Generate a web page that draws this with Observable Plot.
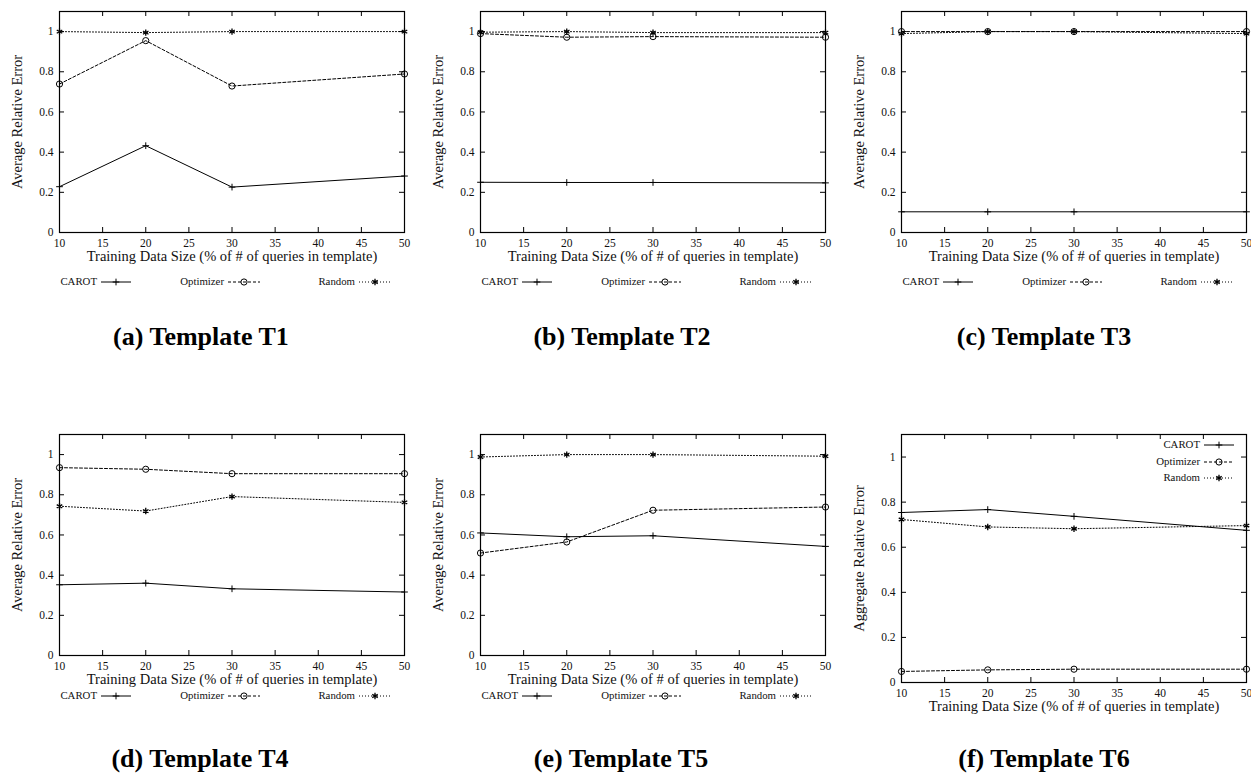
<!DOCTYPE html>
<html><head><meta charset="utf-8">
<script src="https://cdn.jsdelivr.net/npm/d3@7"></script>
<script src="https://cdn.jsdelivr.net/npm/@observablehq/plot@0.6"></script>
<style>
html,body{margin:0;padding:0;background:#fff;overflow:hidden;}
#root{position:relative;width:1251px;height:776px;font-family:"Liberation Serif",serif;}
.panel{position:absolute;}
.panel svg{max-width:none !important;}
#overlay{position:absolute;left:0;top:0;pointer-events:none;}
</style></head><body><div id="root"></div>
<script>
// ---------- data ----------
const sizes = [10, 20, 30, 50];
const seriesNames = ["CAROT", "Optimizer", "Random"];
const panelTitles = ["(a) Template T1", "(b) Template T2", "(c) Template T3", "(d) Template T4", "(e) Template T5", "(f) Template T6"];
const yLabels = ["Average Relative Error", "Average Relative Error", "Average Relative Error", "Average Relative Error", "Average Relative Error", "Aggregate Relative Error"];
const xLabel = "Training Data Size (% of # of queries in template)";
const xTicks = [10, 15, 20, 25, 30, 35, 40, 45, 50];
const yTicks = [0, 0.2, 0.4, 0.6, 0.8, 1];
const yTickLabels = ["0", "0.2", "0.4", "0.6", "0.8", "1"];

const t1Carot = [0.228, 0.432, 0.226, 0.281];
const t1Optimizer = [0.739, 0.955, 0.729, 0.789];
const t1Random = [1.0, 0.995, 1.0, 1.0];
const t2Carot = [0.25, 0.249, 0.249, 0.247];
const t2Optimizer = [0.99, 0.972, 0.975, 0.972];
const t2Random = [0.997, 1.0, 0.995, 0.995];
const t3Carot = [0.103, 0.103, 0.103, 0.103];
const t3Optimizer = [1.0, 1.0, 1.0, 1.0];
const t3Random = [0.99, 1.0, 1.0, 0.99];
const t4Carot = [0.352, 0.360, 0.332, 0.316];
const t4Optimizer = [0.935, 0.927, 0.905, 0.905];
const t4Random = [0.743, 0.719, 0.791, 0.762];
const t5Carot = [0.61, 0.591, 0.596, 0.543];
const t5Optimizer = [0.51, 0.565, 0.723, 0.739];
const t5Random = [0.988, 1.0, 1.0, 0.992];
const t6Carot = [0.754, 0.767, 0.737, 0.675];
const t6Optimizer = [0.049, 0.056, 0.059, 0.059];
const t6Random = [0.723, 0.690, 0.682, 0.696];

const panelValues = [
  [t1Carot, t1Optimizer, t1Random],
  [t2Carot, t2Optimizer, t2Random],
  [t3Carot, t3Optimizer, t3Random],
  [t4Carot, t4Optimizer, t4Random],
  [t5Carot, t5Optimizer, t5Random],
  [t6Carot, t6Optimizer, t6Random]
];

// ---------- layout & styles ----------
const layout = [
  {left: 59, top: 11, h: 221, legend: "below", legendY: 282, capX: 201, capY: 345},
  {left: 480, top: 11, h: 221, legend: "below", legendY: 282, capX: 622, capY: 345},
  {left: 901, top: 11, h: 221, legend: "below", legendY: 282, capX: 1044, capY: 345},
  {left: 59, top: 434, h: 221, legend: "below", legendY: 696, capX: 200, capY: 767},
  {left: 480, top: 434, h: 221, legend: "below", legendY: 696, capX: 621, capY: 767},
  {left: 901, top: 434, h: 248, legend: "inside", capX: 1044, capY: 767}
];
const FW = 345, ML = 59, MT = 11, MR = 16, MB = 40;
const styles = [
  {dash: null, symbol: "plus", d3sym: d3.symbolPlus, r: 2.3, sw: 1},
  {dash: "3,2", symbol: "circle", d3sym: d3.symbolCircle, r: 3.1, sw: 1},
  {dash: "1,2", symbol: "asterisk", d3sym: d3.symbolAsterisk, r: 3.0, sw: 1.3}
];
const FONT = "Liberation Serif";
const INK = "#111";

const root = document.getElementById("root");

layout.forEach((L, i) => {
  const FH = L.h;
  const marks = [
    Plot.frame({stroke: "#000", strokeWidth: 1.2}),
    Plot.tickY(yTicks, {y: d => d, insetRight: FW - 5, stroke: "#000"}),
    Plot.tickY(yTicks, {y: d => d, insetLeft: FW - 5, stroke: "#000"}),
    Plot.tickX(xTicks, {x: d => d, insetBottom: FH - 5, stroke: "#000"}),
    Plot.tickX(xTicks, {x: d => d, insetTop: FH - 5, stroke: "#000"}),
    Plot.axisX({ticks: xTicks, tickSize: 0, tickPadding: 6, label: null, fontSize: 11.5, fill: INK}),
    Plot.axisY({ticks: yTicks, tickSize: 0, tickPadding: 6, label: null, fontSize: 11.5, fill: INK,
      tickFormat: d => yTickLabels[yTicks.indexOf(d)]}),
    Plot.text([xLabel], {frameAnchor: "bottom", dy: 24, text: d => d, fontSize: 14.5, lineAnchor: "middle", textAnchor: "middle", fill: INK}),
    Plot.text([yLabels[i]], {frameAnchor: "left", dx: -42, rotate: -90, text: d => d, fontSize: 14.5, lineAnchor: "middle", textAnchor: "middle", fill: INK})
  ];
  seriesNames.forEach((s, k) => {
    const rows = sizes.map((x, j) => ({series: s, x, y: panelValues[i][k][j]}));
    const st = styles[k];
    marks.push(Plot.line(rows, {x: "x", y: "y", stroke: "#000", strokeWidth: 1, strokeDasharray: st.dash || undefined}));
    marks.push(Plot.dot(rows, {x: "x", y: "y", symbol: () => st.symbol, r: st.r, stroke: "#000", strokeWidth: st.sw, fill: "none"}));
  });
  const svg = Plot.plot({
    width: ML + FW + MR, height: MT + FH + MB,
    marginLeft: ML, marginTop: MT, marginRight: MR, marginBottom: MB,
    x: {domain: [10, 50], axis: null},
    y: {domain: [0, 1.1], axis: null},
    symbol: {type: "identity"},
    style: {fontFamily: FONT, background: "transparent", overflow: "visible", maxWidth: "none"},
    marks
  });
  const div = document.createElement("div");
  div.className = "panel";
  div.style.left = (L.left - ML) + "px";
  div.style.top = (L.top - MT) + "px";
  div.style.width = (ML + FW + MR) + "px";
  div.appendChild(svg);
  root.appendChild(div);
});

// ---------- overlay: legends and captions ----------
const ov = d3.select(root).append("svg").attr("id", "overlay")
  .attr("width", 1251).attr("height", 776).style("font-family", FONT);

function legendItem(g, textEnd, x1, x2, y, k) {
  const st = styles[k];
  g.append("text").attr("x", textEnd).attr("y", y).attr("dy", "0.32em")
    .attr("text-anchor", "end").attr("font-size", 10.8).attr("fill", INK).text(seriesNames[k]);
  g.append("line").attr("x1", x1).attr("x2", x2).attr("y1", y).attr("y2", y)
    .attr("stroke", "#000").attr("stroke-width", 1).attr("stroke-dasharray", st.dash);
  g.append("path").attr("transform", `translate(${(x1 + x2) / 2},${y})`)
    .attr("d", d3.symbol().type(st.d3sym).size(Math.PI * st.r * st.r)())
    .attr("fill", "none").attr("stroke", "#000").attr("stroke-width", st.sw);
}

layout.forEach((L, i) => {
  const g = ov.append("g");
  if (L.legend === "below") {
    const fl = L.left;
    legendItem(g, fl + 38, fl + 42, fl + 72, L.legendY, 0);
    legendItem(g, fl + 165, fl + 169, fl + 201, L.legendY, 1);
    legendItem(g, fl + 296, fl + 300, fl + 332, L.legendY, 2);
  } else {
    const ys = [445, 462, 478];
    seriesNames.forEach((s, k) => legendItem(g, 1200, 1204, 1234, ys[k], k));
  }
  g.append("text").attr("x", L.capX).attr("y", L.capY).attr("text-anchor", "middle")
    .attr("font-size", 26).attr("font-weight", "bold").attr("fill", "#000").text(panelTitles[i]);
});
</script>
</body></html>
